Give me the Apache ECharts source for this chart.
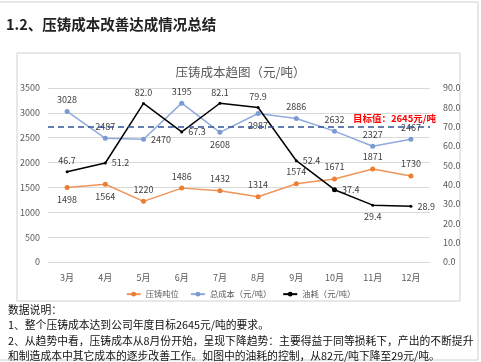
<!DOCTYPE html>
<html><head><meta charset="utf-8">
<script src="https://cdn.jsdelivr.net/npm/echarts@6/dist/echarts.min.js"></script>
<style>html,body{margin:0;padding:0;background:#fff}#c{width:481px;height:362px}</style>
</head><body><div id="c"></div>
<script>
const months = ['3月','4月','5月','6月','7月','8月','9月','10月','11月','12月'];
const tonnage = [1498,1564,1220,1486,1432,1314,1574,1671,1871,1730];
const totalCost = [3028,2487,2470,3195,2608,2987,2886,2632,2327,2467];
const oilCost = [46.7,51.2,82.0,67.3,82.1,79.9,52.4,37.4,29.4,28.9];
const targetLineLevel = 2720;
const targetText = '目标值：2645元/吨';
const leftTicks = [0,3500,500];
const rightTicks = [0,90,10];
const notes = [
  '数据说明：',
  '1、整个压铸成本达到公司年度目标2645元/吨的要求。',
  '2、从趋势中看，压铸成本从8月份开始，呈现下降趋势：主要得益于同等损耗下，产出的不断提升',
  '和制造成本中其它成本的逐步改善工作。如图中的油耗的控制，从82元/吨下降至29元/吨。'
];

const FONT = '"Noto Sans CJK SC", "Noto Sans", sans-serif';
const tonPos = ['bottom','bottom','top','top','top','top','top','top','top','top'];
const costPos = ['top','top','right','top','bottom','bottom','top','top','top','top'];
const oilPos = ['top','right','top','right','top','top','right','right','bottom','right'];

const chart = echarts.init(document.getElementById('c'));
const lbl = {show:true, fontSize:9, color:'#404040', fontFamily:FONT, distance:5};
chart.setOption({
  animation:false,
  textStyle:{fontFamily:FONT},
  title:{text:'压铸成本趋图（元/吨）', left:'center', top:61,
    textStyle:{fontSize:12.5, fontWeight:'normal', color:'#595959', fontFamily:FONT}},
  legend:{top:285, left:'center', itemWidth:14, itemHeight:6, itemGap:11,
    textStyle:{fontSize:8.3, color:'#595959', fontFamily:FONT},
    data:['压铸吨位','总成本（元/吨）','油耗（元/吨）']},
  grid:{left:48, right:51, top:88, bottom:100},
  xAxis:{type:'category', data:months, boundaryGap:true,
    axisLine:{lineStyle:{color:'#d9d9d9'}}, axisTick:{show:false},
    axisLabel:{fontSize:9, color:'#595959', margin:11}},
  yAxis:[
    {type:'value', min:leftTicks[0], max:leftTicks[1], interval:leftTicks[2],
     axisLine:{show:false}, axisTick:{show:false},
     splitLine:{lineStyle:{color:'#d9d9d9'}},
     axisLabel:{fontSize:9, color:'#595959', margin:8, formatter:v=>String(v)}},
    {type:'value', min:rightTicks[0], max:rightTicks[1], interval:rightTicks[2],
     axisLine:{show:false}, axisTick:{show:false}, splitLine:{show:false},
     axisLabel:{fontSize:9, color:'#595959', margin:13, formatter:v=>v.toFixed(1)}}
  ],
  series:[
    {name:'压铸吨位', type:'line', yAxisIndex:0, symbol:'circle', symbolSize:5,
     lineStyle:{color:'#F0955A', width:1.5}, itemStyle:{color:'#ED7D31'},
     data:tonnage.map((v,i)=>({value:v, label:Object.assign({},lbl,{position:tonPos[i]})})),
     label:lbl},
    {name:'总成本（元/吨）', type:'line', yAxisIndex:0, symbol:'circle', symbolSize:5,
     lineStyle:{color:'#8FAADC', width:1.5}, itemStyle:{color:'#7A9AD3'},
     data:totalCost.map((v,i)=>({value:v, label:Object.assign({},lbl,{position:costPos[i]})})),
     label:lbl,
     markLine:{symbol:'none', silent:true,
       lineStyle:{color:'#2F5597', type:[6,4], width:1.5},
       label:{position:'insideEndTop', formatter:targetText, color:'#FF0000', fontWeight:'bold', fontSize:9.5, distance:[-6,4], fontFamily:FONT},
       data:[{yAxis:targetLineLevel}]}},
    {name:'油耗（元/吨）', type:'line', yAxisIndex:1, symbol:'circle',
     symbolSize:(v,p)=>p.dataIndex===7?5:3,
     lineStyle:{color:'#000', width:1.5}, itemStyle:{color:'#000'},
     data:oilCost.map((v,i)=>({value:v, label:Object.assign({},lbl,{position:oilPos[i], formatter:p=>p.value.toFixed(1)})})),
     label:lbl}
  ],
  graphic:[
    {type:'rect', z:-1, shape:{x:-2, y:2, width:480, height:358}, style:{fill:'none', stroke:'#d0d0d0', lineWidth:1}},
    {type:'rect', z:-1, shape:{x:17, y:53, width:443, height:248}, style:{fill:'none', stroke:'#d0d0d0', lineWidth:1}},
    {type:'text', left:6, top:17, style:{text:'1.2、压铸成本改善达成情况总结', fontSize:14.5, fontWeight:'bold', fill:'#222', fontFamily:FONT}},
    {type:'text', left:8, top:302, style:{text:notes.join('\n'), fontSize:10.8, lineHeight:15.5, fill:'#111', fontFamily:FONT}}
  ]
});
</script></body></html>
